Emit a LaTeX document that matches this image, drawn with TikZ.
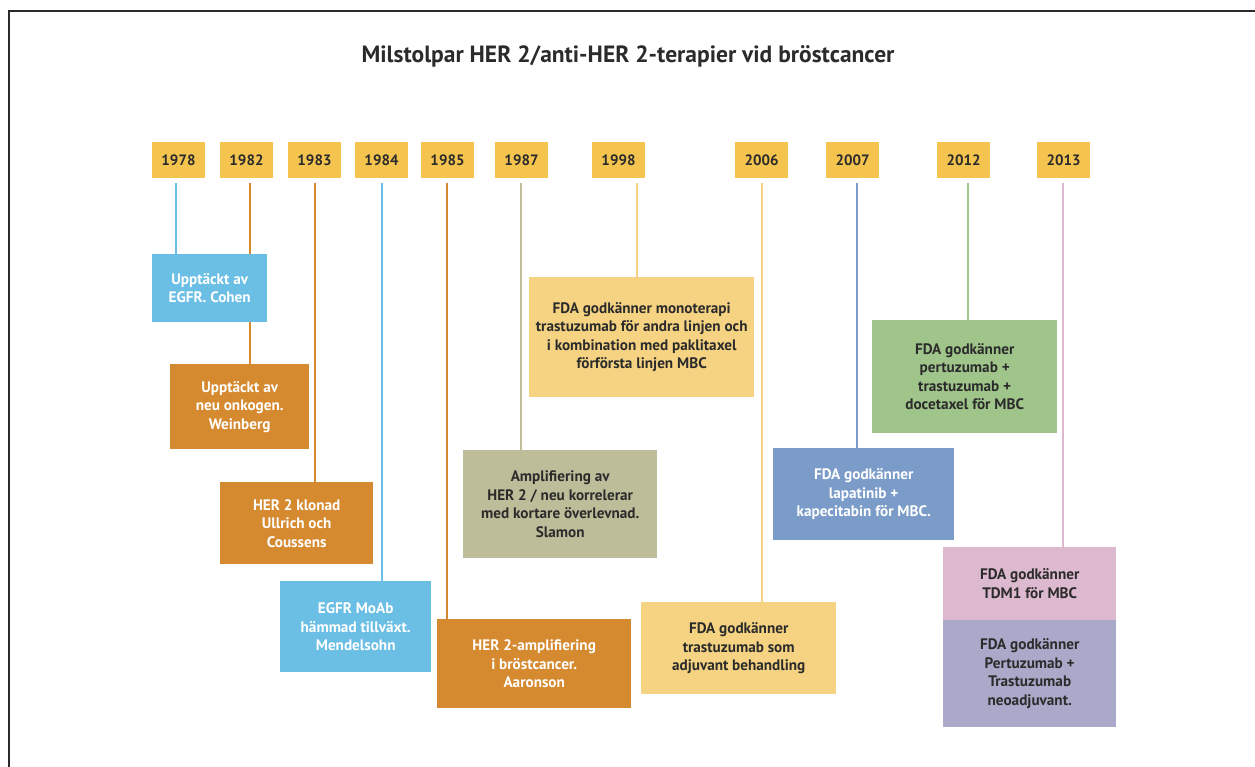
\documentclass[tikz,border=0pt]{standalone}
\usepackage{fontspec}
\setmainfont{PT Sans}
\usetikzlibrary{calc}
\pgfdeclarelayer{background}
\pgfsetlayers{background,main}
\definecolor{yearc}{HTML}{F4C44F}
\definecolor{cblue}{HTML}{6BBFE5}
\definecolor{corange}{HTML}{D68A30}
\definecolor{ckhaki}{HTML}{BDBD9A}
\definecolor{cyellow}{HTML}{F5D382}
\definecolor{cdblue}{HTML}{7B9CC9}
\definecolor{cgreen}{HTML}{A0C58A}
\definecolor{cpink}{HTML}{DDB9CF}
\definecolor{cpurple}{HTML}{ABA9C9}
\definecolor{txt}{HTML}{2B2B2B}
\definecolor{frame}{HTML}{2A2A2A}
\tikzset{
  yearbox/.style={fill=yearc, minimum width=53pt, minimum height=36pt, inner sep=0pt,
    font=\bfseries\fontsize{15}{17}\selectfont, text=txt},
  infobox/.style={anchor=north west, inner sep=0pt, align=center,
    font=\bfseries\fontsize{15.2}{18.5}\selectfont, text=txt},
  wtext/.style={text=white},
  conn/.style={line width=1.5pt},
}
\begin{document}
\begin{tikzpicture}[x=1pt,y=-1pt]
\useasboundingbox (0,0) rectangle (1255,767);
% frame
\draw[frame, line width=2pt] (8.5,767) -- (8.5,11.5) -- (1255,11.5);
% title
\node[font=\bfseries\fontsize{23.5}{27}\selectfont, text=txt] (title) at (628,56) {Milstolpar HER 2/anti-HER 2-terapier vid bröstcancer};
% year boxes
\node[yearbox] (y1978) at (178.5,160) {1978};
\node[yearbox] (y1982) at (246.5,160) {1982};
\node[yearbox] (y1983) at (314.5,160) {1983};
\node[yearbox] (y1984) at (381.5,160) {1984};
\node[yearbox] (y1985) at (447.5,160) {1985};
\node[yearbox] (y1987) at (521.5,160) {1987};
\node[yearbox] (y1998) at (618.5,160) {1998};
\node[yearbox] (y2006) at (761.5,160) {2006};
\node[yearbox] (y2007) at (852.5,160) {2007};
\node[yearbox] (y2012) at (963.5,160) {2012};
\node[yearbox] (y2013) at (1063.5,160) {2013};
% info boxes
\node[infobox, wtext, fill=cblue, minimum width=115pt, minimum height=68pt] (b1978) at (152,254)
  {Upptäckt av\\EGFR. Cohen};
\node[infobox, wtext, fill=corange, minimum width=139pt, minimum height=85pt] (b1982) at (170,364)
  {Upptäckt av\\neu onkogen.\\Weinberg};
\node[infobox, wtext, fill=corange, minimum width=153pt, minimum height=82pt] (b1983) at (220,482)
  {HER 2 klonad\\Ullrich och\\Coussens};
\node[infobox, wtext, fill=cblue, minimum width=151pt, minimum height=91pt] (b1984) at (280,581)
  {EGFR MoAb\\hämmad tillväxt.\\Mendelsohn};
\node[infobox, wtext, fill=corange, minimum width=194pt, minimum height=89pt] (b1985) at (437,619)
  {HER 2-amplifiering\\i bröstcancer.\\Aaronson};
\node[infobox, fill=ckhaki, minimum width=194pt, minimum height=108pt] (b1987) at (463,450)
  {Amplifiering av\\HER 2 / neu korrelerar\\med kortare överlevnad.\\Slamon};
\node[infobox, fill=cyellow, minimum width=225pt, minimum height=120pt] (b1998) at (529,277)
  {FDA godkänner monoterapi\\trastuzumab för andra linjen och\\i kombination med paklitaxel\\förförsta linjen MBC};
\node[infobox, fill=cyellow, minimum width=195pt, minimum height=92pt] (b2006) at (641,602)
  {FDA godkänner\\trastuzumab som\\adjuvant behandling};
\node[infobox, wtext, fill=cdblue, minimum width=181pt, minimum height=92pt] (b2007) at (773,448)
  {FDA godkänner\\lapatinib +\\kapecitabin för MBC.};
\node[infobox, fill=cgreen, minimum width=185pt, minimum height=113pt] (b2012) at (872,320)
  {FDA godkänner\\pertuzumab +\\trastuzumab +\\docetaxel för MBC};
\node[infobox, fill=cpink, minimum width=173pt, minimum height=73pt] (b2013) at (943,547)
  {FDA godkänner\\TDM1 för MBC};
\node[infobox, fill=cpurple, minimum width=173pt, minimum height=107pt] (b2013b) at (943,620)
  {FDA godkänner\\Pertuzumab +\\Trastuzumab\\neoadjuvant.};
% connector start points
\coordinate (t1978) at (176,183);
\coordinate (t1982) at (250,183);
\coordinate (t1983) at (315,183);
\coordinate (t1984) at (382,183);
\coordinate (t1985) at (447,183);
\coordinate (t1987) at (521,183);
\coordinate (t1998) at (637,183);
\coordinate (t2006) at (762,183);
\coordinate (t2007) at (857,183);
\coordinate (t2012) at (968,183);
\coordinate (t2013) at (1063,183);
\begin{pgfonlayer}{background}
\draw[conn, cblue] (t1978) -- (t1978 |- b1978.north);
\draw[conn, corange] (t1982) -- (t1982 |- b1982.north);
\draw[conn, corange] (t1983) -- (t1983 |- b1983.north);
\draw[conn, cblue] (t1984) -- (t1984 |- b1984.north);
\draw[conn, corange] (t1985) -- (t1985 |- b1985.north);
\draw[conn, ckhaki] (t1987) -- (t1987 |- b1987.north);
\draw[conn, cyellow] (t1998) -- (t1998 |- b1998.north);
\draw[conn, cyellow] (t2006) -- (t2006 |- b2006.north);
\draw[conn, cdblue] (t2007) -- (t2007 |- b2007.north);
\draw[conn, cgreen] (t2012) -- (t2012 |- b2012.north);
\draw[conn, cpink] (t2013) -- (t2013 |- b2013.north);
\end{pgfonlayer}
\end{tikzpicture}
\end{document}
